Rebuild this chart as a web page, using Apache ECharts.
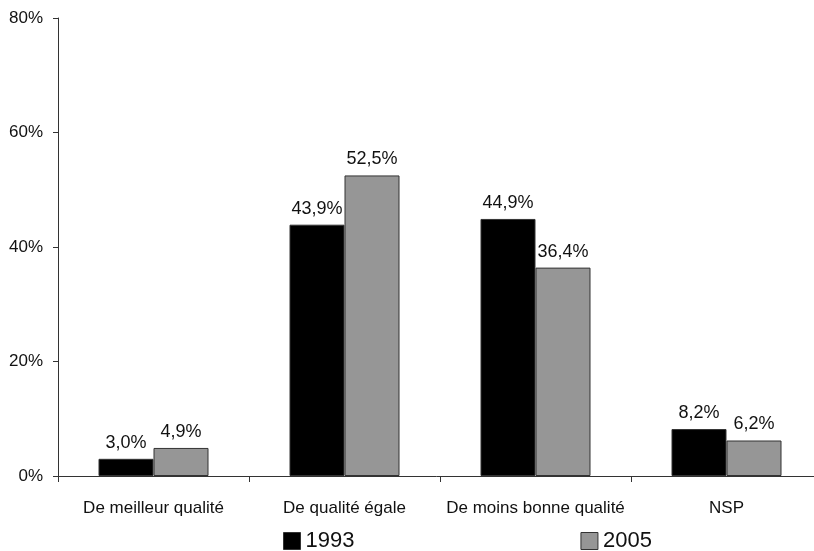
<!DOCTYPE html>
<html>
<head>
<meta charset="utf-8">
<script src="https://cdn.jsdelivr.net/npm/echarts@6/dist/echarts.min.js"></script>
<style>
  html, body { margin: 0; padding: 0; background: #fff; }
  #chart { width: 814px; height: 551px; }
</style>
</head>
<body>
<div id="chart"></div>
<script>
// data
var categories = ["De meilleur qualité", "De qualité égale", "De moins bonne qualité", "NSP"];
var years = ["1993", "2005"];
var values1993 = [3.0, 43.9, 44.9, 8.2];
var values2005 = [4.9, 52.5, 36.4, 6.2];
var yTicks = [0, 20, 40, 60, 80];

var font = "Liberation Sans, Arial, sans-serif";
var chart = echarts.init(document.getElementById("chart"));

function fmt(v) {
  return v.toFixed(1).replace(".", ",") + "%";
}

chart.setOption({
  animation: false,
  textStyle: { fontFamily: font },
  grid: { left: 58, top: 18, width: 764, height: 458, outerBoundsMode: "none", containLabel: false },
  legend: {
    data: years,
    left: 278,
    top: 525,
    itemWidth: 17,
    itemHeight: 17,
    itemGap: 226,
    icon: "rect",
    textStyle: { fontSize: 22, color: "#111", fontFamily: font },
    itemStyle: { borderColor: "#333", borderWidth: 1 }
  },
  xAxis: {
    type: "category",
    data: categories,
    axisLine: { lineStyle: { color: "#333", width: 1 } },
    axisTick: { show: true, interval: 0, length: 6, lineStyle: { color: "#333" } },
    axisLabel: { interval: 0, fontSize: 17, color: "#111", margin: 24, fontFamily: font }
  },
  yAxis: {
    type: "value",
    min: yTicks[0],
    max: yTicks[yTicks.length - 1],
    interval: 20,
    splitLine: { show: false },
    axisLine: { show: true, lineStyle: { color: "#333", width: 1 } },
    axisTick: { show: true, length: 5, lineStyle: { color: "#333" } },
    axisLabel: {
      fontSize: 17, color: "#111", margin: 15, fontFamily: font,
      formatter: function (v) { return v + "%"; }
    }
  },
  series: [
    {
      name: years[0],
      type: "bar",
      data: values1993,
      barWidth: 55,
      barGap: "0%",
      itemStyle: { color: "#000", borderColor: "#333", borderWidth: 1 },
      label: {
        show: true, position: "top", distance: 7, fontSize: 18, color: "#111",
        fontFamily: font,
        formatter: function (p) { return fmt(p.value); }
      }
    },
    {
      name: years[1],
      type: "bar",
      data: values2005,
      barWidth: 55,
      barGap: "0%",
      itemStyle: { color: "#969696", borderColor: "#333", borderWidth: 1 },
      label: {
        show: true, position: "top", distance: 7, fontSize: 18, color: "#111",
        fontFamily: font,
        formatter: function (p) { return fmt(p.value); }
      }
    }
  ]
});
</script>
</body>
</html>
